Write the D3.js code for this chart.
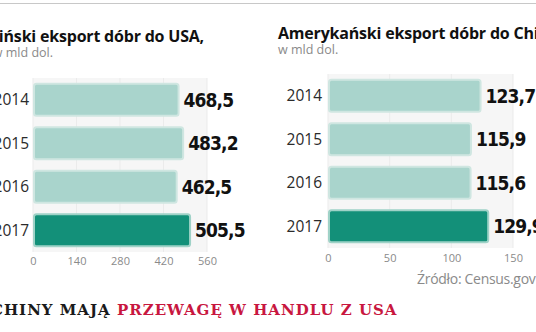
<!DOCTYPE html>
<html><head><meta charset="utf-8">
<script src="https://cdn.jsdelivr.net/npm/d3@7"></script>
<style>
html,body{margin:0;padding:0;background:#fff;overflow:hidden}
svg{display:block}
</style></head><body>
<svg id="c" width="536" height="332"></svg>
<script>
const years = ["2014","2015","2016","2017"];
const chinaToUsa = [468.5, 483.2, 462.5, 505.5];
const usaToChina = [123.7, 115.9, 115.6, 129.9];
const leftTicks = [0,140,280,420,560];
const rightTicks = [0,50,100,150];
const leftTitle = "Chiński eksport dóbr do USA,";
const rightTitle = "Amerykański eksport dóbr do Chin,";
const unitLabel = "w mld dol.";
const sourceLabel = "Źródło: Census.gov";
const headBlack = "CHINY MAJĄ ";
const headRed = "PRZEWAGĘ W HANDLU Z USA";

const svg = d3.select("#c");
const fmt = v => d3.format(".1f")(v).replace(".", ",");

svg.append("line").attr("x1",0).attr("x2",536).attr("y1",3.5).attr("y2",3.5)
  .attr("stroke","#c8c8c8").attr("stroke-width",1);

function panel(o){
  const x = d3.scaleLinear().domain(o.domain).range(o.xr);
  const y = d3.scaleBand().domain(years).range(o.yr).paddingInner(0.26).paddingOuter(0.13);
  const g = svg.append("g");
  g.append("rect").attr("x",x(o.domain[0])).attr("y",o.yr[0]).attr("width",x(o.domain[1])-x(o.domain[0])).attr("height",o.yr[1]-o.yr[0])
    .attr("fill","#f6f6f6");
  g.selectAll(".grid").data(o.ticks).join("line")
    .attr("x1",d=>x(d)).attr("x2",d=>x(d)).attr("y1",o.yr[0]).attr("y2",o.yr[1])
    .attr("stroke","#ebebeb").attr("stroke-width",1);
  const ax = g.append("g").attr("transform",`translate(0,${o.axisY})`)
    .call(d3.axisBottom(x).tickValues(o.ticks).tickSize(0).tickPadding(0));
  ax.select(".domain").remove();
  ax.selectAll("text").attr("fill","#8a8a8a").attr("font-family","'Open Sans',sans-serif")
    .attr("font-size","11px").attr("dy","0");
  g.selectAll(".bar").data(o.values).join("rect")
    .attr("x",x(0)+1).attr("y",(d,i)=>y(years[i]))
    .attr("width",d=>x(d)-x(0)-1).attr("height",y.bandwidth())
    .attr("rx",2.5)
    .attr("fill",(d,i)=>i===3?"#139079":"#a9d4cc")
    .attr("stroke",(d,i)=>i===3?"#9fd2c7":"#cfe6e1").attr("stroke-width",2);
  g.selectAll(".yr").data(years).join("text")
    .attr("x",o.yearX).attr("y",d=>y(d)+y.bandwidth()/2).attr("dy","0.36em")
    .attr("text-anchor","end").attr("fill","#2b2b2b")
    .attr("font-family","'Open Sans',sans-serif").attr("font-size","15.5px").text(d=>d);
  g.selectAll(".val").data(o.values).join("text")
    .attr("x",d=>x(d)+5).attr("y",(d,i)=>y(years[i])+y.bandwidth()/2).attr("dy","0.36em")
    .attr("fill","#111").attr("font-family","'DejaVu Sans Condensed','DejaVu Sans',sans-serif")
    .attr("font-weight","bold").attr("font-size","19px").attr("letter-spacing","-0.9px")
    .text(d=>fmt(d));
  g.append("text").attr("x",o.titleX).attr("y",o.titleY).attr("fill","#111")
    .attr("text-anchor",o.titleAnchor)
    .attr("font-family","'Open Sans',sans-serif").attr("font-weight","bold").attr("font-size","16px")
    .attr("letter-spacing","-0.2px").text(o.title);
  g.append("text").attr("x",o.subX).attr("y",o.titleY+15).attr("fill","#8a8a8a")
    .attr("text-anchor",o.titleAnchor)
    .attr("font-family","'Open Sans',sans-serif").attr("font-size","12.5px").text(unitLabel);
}

panel({values:chinaToUsa, domain:[0,560], ticks:leftTicks, xr:[33,207], yr:[78,252], axisY:265,
  yearX:29, title:leftTitle, titleAnchor:"end", titleX:204, titleY:42, subX:53});
panel({values:usaToChina, domain:[0,150], ticks:rightTicks, xr:[328,513], yr:[74,248], axisY:262,
  yearX:322, title:rightTitle, titleAnchor:"start", titleX:278, titleY:39, subX:278});

svg.append("text").attr("x",417).attr("y",284).attr("fill","#8a8a8a")
  .attr("font-family","'Open Sans',sans-serif").attr("font-size","14px").attr("letter-spacing","-0.3px").text(sourceLabel);

const h = svg.append("text").attr("x",-9).attr("y",315)
  .attr("font-family","'DejaVu Serif',serif").attr("font-weight","bold").attr("font-size","15px")
  .attr("letter-spacing","1px");
h.append("tspan").attr("fill","#1a1a1a").text(headBlack);
h.append("tspan").attr("fill","#c8173f").text(headRed);
</script>
</body></html>
